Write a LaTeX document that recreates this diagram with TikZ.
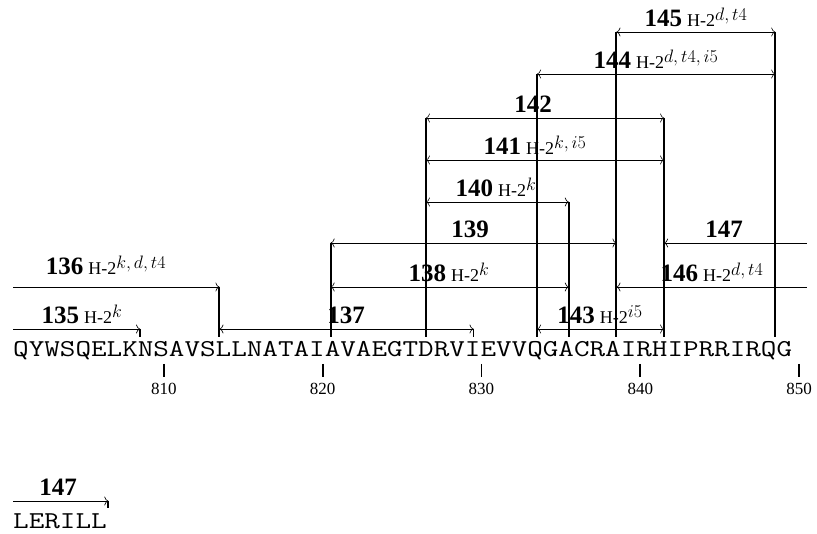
\documentclass[tikz,border=0pt]{standalone}
\usepackage{fix-cm}
\usepackage{fontspec}
\setmainfont{Liberation Serif}
\newfontfamily\labfont{Liberation Serif}
\usetikzlibrary{arrows.meta}
\newcommand\seqtext[1]{\scalebox{1.25}[1]{\fontsize{24.2}{25}\ttfamily #1}}
\newcommand\numlab[1]{{\labfont\fontsize{25}{26}\selectfont\bfseries #1}}
\newcommand\hlab[2]{\numlab{#1}\hspace{5pt}{\labfont\fontsize{18}{19}\selectfont H-2$^{\textstyle #2}$}}
% peptide: [label lift], name, k1, k2, level, tips, label x, label
\newcommand\pep[8][5]{%
  \coordinate (#2s) at ({13+15.88*#3},#5);
  \coordinate (#2e) at ({13+15.88*#4},#5);
  \draw[pep,#6] (#2s) -- (#2e);
  \node[lab] (#2l) at (#7,{#5-#1}) {#8};
}
% boundary bar: [bottom], name, k, top
\newcommand\vbar[4][337]{%
  \coordinate (#2t) at ({13+15.88*#3},#4);
  \coordinate (#2b) at ({13+15.88*#3},#1);
  \draw[barline] (#2t) -- (#2b);
}
\tikzset{
  pep/.style={line width=0.6pt},
  barline/.style={line width=1.9pt},
  lab/.style={anchor=base, inner sep=0pt},
  ticklab/.style={anchor=base, inner sep=0pt, font=\labfont\fontsize{17}{18}\selectfont},
  seq/.style={anchor=base west, inner sep=0pt},
  ra/.style={-{Computer Modern Rightarrow[length=4pt,width=9pt]}},
  la/.style={{Computer Modern Rightarrow[length=4pt,width=9pt]}-},
  lra/.style={{Computer Modern Rightarrow[length=4pt,width=9pt]}-{Computer Modern Rightarrow[length=4pt,width=9pt]}},
}
\begin{document}
\begin{tikzpicture}[x=1pt,y=-1pt]
\useasboundingbox (0,0) rectangle (817,534);
% sequence line 1
\node[seq] (seqA) at (13,357) {\seqtext{QYWSQELKNSAVSLLNATAIAVAEGTDRVIEVVQGACRAIRHIPRRIRQG}};
% peptides
\pep{p135}{0}{8}{329}{ra}{82}{\hlab{135}{k}}
\pep[12]{p136}{0}{13}{287}{ra}{106}{\hlab{136}{k,d,t4}}
\pep{p137}{13}{29}{329}{lra}{346}{\numlab{137}}
\pep{p138}{20}{35}{287}{lra}{449}{\hlab{138}{k}}
\pep{p139}{20}{38}{243}{lra}{470}{\numlab{139}}
\pep{p140}{26}{35}{202}{lra}{496}{\hlab{140}{k}}
\pep{p141}{26}{41}{160}{lra}{535}{\hlab{141}{k,i5}}
\pep{p142}{26}{41}{118}{lra}{533}{\numlab{142}}
\pep{p143}{33}{41}{329}{lra}{600}{\hlab{143}{i5}}
\pep{p144}{33}{48}{74}{lra}{656}{\hlab{144}{d,t4,i5}}
\pep{p145}{38}{48}{32}{lra}{696}{\hlab{145}{d,t4}}
\pep{p146}{38}{50}{287}{la}{712}{\hlab{146}{d,t4}}
\pep{p147}{41}{50}{243}{la}{724}{\numlab{147}}
% boundary bars
\vbar{v8}{8}{329}
\vbar{v13}{13}{287}
\vbar{v20}{20}{243}
\vbar{v26}{26}{118}
\vbar{v29}{29}{329}
\vbar{v33}{33}{74}
\vbar{v35}{35}{202}
\vbar{v38}{38}{32}
\vbar{v41}{41}{118}
\vbar{v48}{48}{32}
% ticks
\foreach \n in {810,820,830,840,850}{
  \coordinate (t\n a) at ({13+15.88*(\n-801+0.5)},364);
  \coordinate (t\n b) at ({13+15.88*(\n-801+0.5)},377);
  \draw[barline] (t\n a) -- (t\n b);
  \node[ticklab] (tl\n) at ({13+15.88*(\n-801+0.5)},395) {\n};
}
% sequence line 2
\node[seq] (seqB) at (13,528) {\seqtext{LERILL}};
\pep{q147}{0}{6}{501}{ra}{58}{\numlab{147}}
\vbar[508]{w6}{6}{501}
\end{tikzpicture}
\end{document}
